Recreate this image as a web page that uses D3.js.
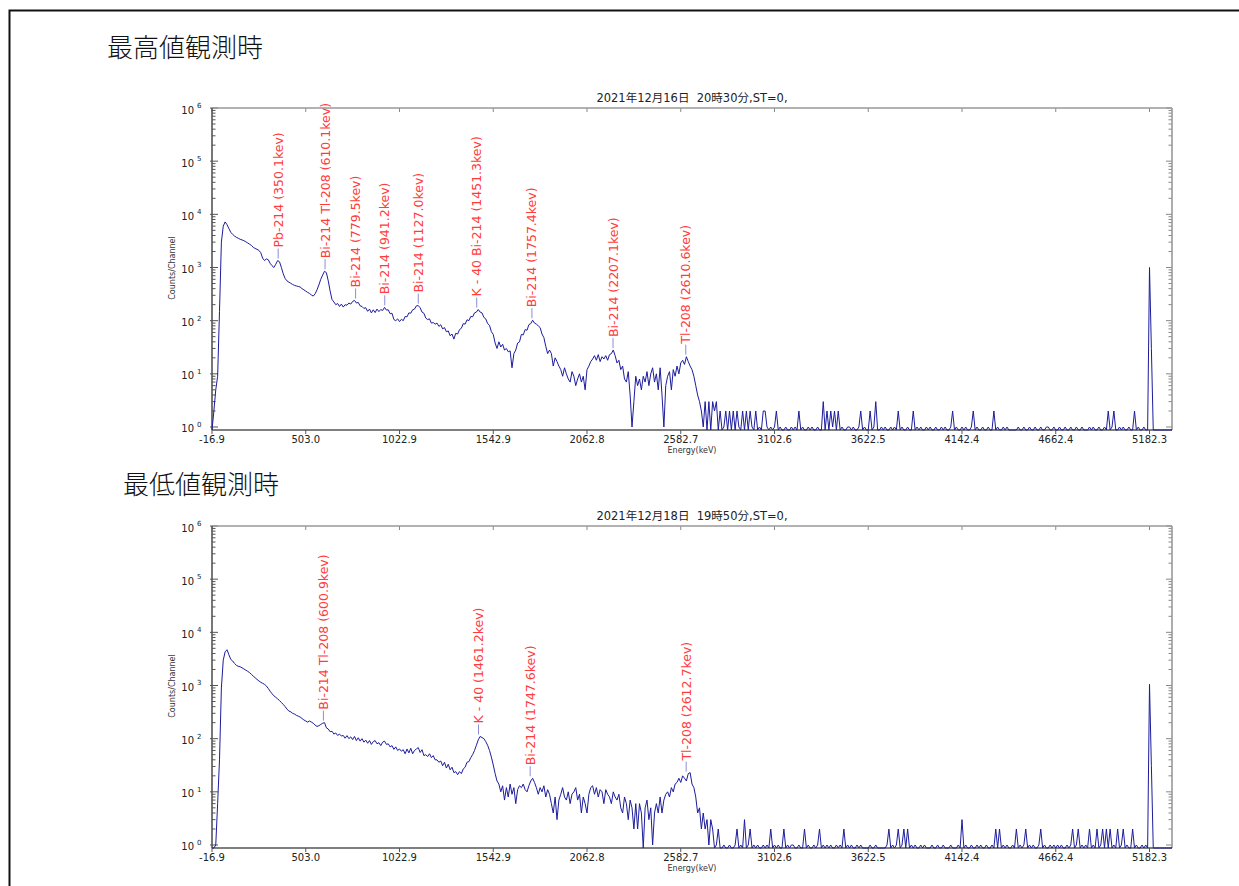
<!DOCTYPE html>
<html lang="ja">
<head>
<meta charset="UTF-8">
<title>最高値・最低値観測時スペクトル</title>
<script src="https://d3js.org/d3.v7.min.js"></script>
<style>
  body { margin: 0; background: #fff; }
  svg { display: block; }
</style>
</head>
<body>
<div id="chart"></div>
<script>
// energy axis: one stored point every 2 channels
const eStart = -16.9;
const eStep = 10.3984;

const xTickValues = [-16.9, 503.0, 1022.9, 1542.9, 2062.8, 2582.7, 3102.6, 3622.5, 4142.4, 4662.4, 5182.3];
const yDecades = [0, 1, 2, 3, 4, 5, 6];

// counts/channel (2021/12/16 20:30)
const topCounts = [
  0,2,5,9,150,3000,6000,7200,6400,5400,
  4600,4200,3900,3700,3550,3400,3300,3200,3050,2900,
  2750,2600,2400,2280,2200,2100,1900,1500,1350,1450,
  1400,1200,1080,1000,1150,1350,1280,1000,760,620,
  560,530,505,480,460,450,440,430,400,380,
  360,340,325,305,290,320,380,470,600,720,
  850,800,560,360,250,225,200,210,185,205,
  180,200,195,215,205,230,240,215,220,190,
  185,170,175,150,165,140,160,142,165,148,
  162,155,178,158,160,135,138,105,100,108,
  96,106,100,120,118,140,138,160,165,190,
  192,175,145,138,112,105,108,90,92,86,
  90,78,84,70,74,62,64,52,56,45,
  58,56,68,72,88,86,104,100,120,118,
  140,145,162,145,140,115,108,88,82,62,
  55,38,30,40,32,36,28,30,26,27,
  13,24,28,38,40,55,54,68,66,84,
  88,102,90,86,80,74,56,48,33,24,
  28,24,14,20,17,14,12,9,13,10,
  8,7,11,9,6,8,10,7,9,5,
  12,14,17,19,22,18,23,17,21,19,
  22,18,23,24,28,22,16,18,12,14,
  8,7,11,4,1,3,9,6,8,5,
  9,7,11,6,10,13,7,10,5,13,
  4,1,6,9,11,5,12,9,14,10,
  16,18,15,21,17,14,12,9,6,4,
  3,2,1,3,0,3,0,3,2,3,
  0,2,0,1,2,0,2,0,2,0,
  2,1,0,2,0,2,0,2,1,0,
  2,0,1,0,2,2,1,0,1,0,
  1,2,0,1,0,0,1,0,0,1,
  0,1,0,2,0,1,0,0,1,0,
  1,0,0,1,0,0,3,0,2,0,
  2,1,2,0,2,0,1,0,0,1,
  1,0,1,0,0,1,2,0,1,0,
  0,2,0,1,3,0,0,1,0,1,
  0,0,1,0,1,0,2,0,1,0,
  0,1,0,0,2,0,1,0,1,0,
  0,1,0,1,0,0,1,0,0,1,
  0,1,0,0,1,2,0,1,0,0,
  1,0,1,0,0,1,2,0,1,0,
  0,1,0,0,1,0,0,2,0,1,
  0,0,1,0,1,0,0,0,0,0,
  1,0,0,1,0,0,1,0,0,1,
  0,0,1,0,0,1,1,0,0,1,
  0,0,1,0,0,1,0,0,1,0,
  0,1,0,0,1,0,0,0,1,0,
  1,0,0,1,0,0,1,0,2,0,
  1,2,0,0,1,0,1,0,0,1,
  0,0,2,0,1,0,0,1,0,0,
  1000,30,0,0,0,0,0,0,0,0,
  0,0,0
];

// counts/channel (2021/12/18 19:50)
const bottomCounts = [
  0,0,1,6,40,900,3000,4300,4700,3800,
  3100,2900,2600,2400,2300,2250,2150,2050,1950,1850,
  1750,1620,1500,1400,1300,1220,1150,1100,1050,980,
  880,780,700,640,600,560,520,480,440,400,
  360,330,320,300,290,275,265,255,240,225,
  215,205,215,205,195,180,170,175,185,195,
  200,160,152,135,138,122,128,115,122,112,
  115,102,114,100,108,96,110,92,104,90,
  100,86,94,82,92,78,88,92,80,84,
  74,86,90,78,80,70,74,63,70,60,
  64,58,62,52,64,54,66,52,60,64,
  68,55,62,48,50,46,52,44,48,40,
  40,36,38,31,36,28,33,26,29,23,
  24,21,24,22,27,29,36,37,44,50,
  60,75,95,110,105,100,88,75,60,45,
  32,22,16,14,10,13,7,12,8,14,
  9,12,6,11,13,12,14,11,10,13,
  16,18,15,12,9,12,10,13,8,11,
  9,6,4,8,3,7,9,12,8,7,
  10,6,9,10,12,7,9,4,8,6,
  4,9,12,13,9,12,8,11,10,6,
  11,9,8,6,10,8,7,9,5,4,
  8,6,3,7,5,2,6,2,6,4,
  0,5,7,3,5,1,4,6,4,8,
  4,7,9,10,8,12,10,14,15,18,
  15,20,18,16,22,23,14,12,8,4,
  5,2,4,2,3,1,3,2,0,1,
  2,0,0,1,0,0,1,0,0,1,
  2,0,1,0,3,0,1,2,0,1,
  0,1,0,0,1,0,1,0,2,0,
  1,0,1,0,0,2,0,1,0,1,
  1,0,0,1,0,0,2,0,1,0,
  0,1,0,1,2,0,1,0,1,0,
  1,0,0,1,0,1,0,2,0,1,
  0,1,0,0,1,0,1,0,0,0,
  0,1,0,0,1,0,0,0,0,0,
  1,2,0,1,0,1,2,0,1,2,
  0,2,0,1,0,1,0,0,1,0,
  1,0,0,0,1,0,0,1,0,0,
  1,0,0,0,1,0,0,0,1,0,
  3,0,1,0,0,1,0,0,1,0,
  1,0,0,1,0,0,1,0,2,0,
  2,0,1,0,1,0,0,1,0,2,
  0,1,0,1,2,0,1,0,1,0,
  0,1,2,0,1,0,0,1,0,1,
  0,1,0,1,0,0,1,0,1,2,
  0,1,2,0,1,0,1,0,2,0,
  1,0,2,0,1,2,0,2,0,2,
  0,1,0,2,0,1,2,0,1,0,
  0,2,0,1,0,0,1,0,1,0,
  1050,31,0,0,0,0,0,0,0,0,
  0,0,0
];

// identified peaks
const topPeakE = [350.1, 610.1, 779.5, 941.2, 1127.0, 1451.3, 1757.4, 2207.1, 2610.6];
const topPeakText = ["Pb-214 (350.1kev)", "Bi-214 Tl-208 (610.1kev)", "Bi-214 (779.5kev)", "Bi-214 (941.2kev)",
  "Bi-214 (1127.0kev)", "K - 40 Bi-214 (1451.3kev)", "Bi-214 (1757.4kev)", "Bi-214 (2207.1kev)", "Tl-208 (2610.6kev)"];
const bottomPeakE = [600.9, 1461.2, 1747.6, 2612.7];
const bottomPeakText = ["Bi-214 Tl-208 (600.9kev)", "K - 40 (1461.2kev)", "Bi-214 (1747.6kev)", "Tl-208 (2612.7kev)"];

const headings = ["最高値観測時", "最低値観測時"];
const titles = ["2021年12月16日  20時30分,ST=0,", "2021年12月18日  19時50分,ST=0,"];

// ---- layout ----
const W = 1239, H = 886;
const left = 212, right = 1172, plotH = 322;
const yMin = 0.878;
const lineColor = "#1c1c9c";
const labelColor = "#ff3b3b";
const latin = "'DejaVu Sans', Verdana, sans-serif";
const cjk = "'DejaVu Sans', 'Noto Sans CJK JP', sans-serif";

const svg = d3.select("#chart").append("svg")
    .attr("width", W).attr("height", H)
    .style("background", "#fff");

// page frame (runs off the right/bottom edge)
svg.append("rect")
    .attr("x", 9.5).attr("y", 10.5)
    .attr("width", 1260).attr("height", 900)
    .attr("fill", "none").attr("stroke", "#111").attr("stroke-width", 2);

const panels = [
  { top: 108, headX: 107, headY: 45, counts: topCounts, peakE: topPeakE, peakText: topPeakText },
  { top: 526, headX: 123, headY: 482, counts: bottomCounts, peakE: bottomPeakE, peakText: bottomPeakText }
];

const x = d3.scaleLinear()
    .domain([eStart, eStart + 512 * eStep])
    .range([left, right]);

panels.forEach((p, k) => {
  const bottom = p.top + plotH;
  const y = d3.scaleLog().domain([yMin, 1e6]).range([bottom, p.top]);

  svg.append("text")
      .attr("x", p.headX).attr("y", p.headY)
      .attr("dominant-baseline", "central")
      .style("font-family", "'Noto Sans CJK JP', sans-serif")
      .style("font-weight", 300)
      .style("font-size", "26px")
      .attr("fill", "#111")
      .text(headings[k]);

  svg.append("text")
      .attr("x", 692).attr("y", p.top - 6)
      .attr("text-anchor", "middle")
      .style("font-family", cjk)
      .style("font-size", "11.5px")
      .style("white-space", "pre")
      .attr("fill", "#222")
      .text(titles[k]);

  const g = svg.append("g");

  // x axis ticks (bottom outward, top inward)
  g.selectAll(".xtb").data(xTickValues).enter().append("line")
      .attr("x1", d => x(d)).attr("x2", d => x(d))
      .attr("y1", bottom).attr("y2", bottom + 4)
      .attr("stroke", "#555").attr("stroke-width", 1);
  g.selectAll(".xtt").data(xTickValues).enter().append("line")
      .attr("x1", d => x(d)).attr("x2", d => x(d))
      .attr("y1", p.top).attr("y2", p.top + 4)
      .attr("stroke", "#888").attr("stroke-width", 1);
  g.selectAll(".xl").data(xTickValues).enter().append("text")
      .attr("x", d => x(d)).attr("y", bottom + 13)
      .attr("text-anchor", "middle")
      .style("font-family", latin).style("font-size", "10px")
      .attr("fill", "#222")
      .text(d => d.toFixed(1));

  // y axis log ticks
  const minor = [];
  yDecades.slice(0, -1).forEach(e => {
    for (let m = 2; m <= 9; m++) minor.push(m * Math.pow(10, e));
  });
  const major = yDecades.map(e => Math.pow(10, e));

  g.selectAll(".ymn").data(minor).enter().append("line")
      .attr("x1", left).attr("x2", left + 3.5)
      .attr("y1", d => y(d)).attr("y2", d => y(d))
      .attr("stroke", "#555").attr("stroke-width", 1);
  g.selectAll(".ymj").data(major).enter().append("line")
      .attr("x1", left - 2).attr("x2", left + 6)
      .attr("y1", d => y(d)).attr("y2", d => y(d))
      .attr("stroke", "#555").attr("stroke-width", 1);
  g.selectAll(".ymnr").data(minor).enter().append("line")
      .attr("x1", right - 3.5).attr("x2", right)
      .attr("y1", d => y(d)).attr("y2", d => y(d))
      .attr("stroke", "#888").attr("stroke-width", 1);
  g.selectAll(".ymjr").data(major).enter().append("line")
      .attr("x1", right - 6).attr("x2", right)
      .attr("y1", d => y(d)).attr("y2", d => y(d))
      .attr("stroke", "#888").attr("stroke-width", 1);

  const yl = g.selectAll(".yl").data(yDecades).enter().append("g");
  yl.append("text")
      .attr("x", 194).attr("y", d => y(Math.pow(10, d)) + 2)
      .attr("text-anchor", "end").attr("dominant-baseline", "central")
      .style("font-family", latin).style("font-size", "10px")
      .attr("fill", "#222")
      .text("10");
  yl.append("text")
      .attr("x", 197).attr("y", d => y(Math.pow(10, d)) - 2)
      .attr("dominant-baseline", "central")
      .style("font-family", latin).style("font-size", "7px")
      .attr("fill", "#222")
      .text(d => d);

  // frame: left/bottom darker, top/right lighter
  g.append("line").attr("x1", left).attr("x2", right).attr("y1", p.top).attr("y2", p.top)
      .attr("stroke", "#999").attr("stroke-width", 1.6);
  g.append("line").attr("x1", right).attr("x2", right).attr("y1", p.top).attr("y2", bottom)
      .attr("stroke", "#999").attr("stroke-width", 1.6);
  g.append("line").attr("x1", left).attr("x2", right).attr("y1", bottom).attr("y2", bottom)
      .attr("stroke", "#555").attr("stroke-width", 1.6);
  g.append("line").attr("x1", left).attr("x2", left).attr("y1", p.top).attr("y2", bottom)
      .attr("stroke", "#555").attr("stroke-width", 1.6);

  // axis titles
  g.append("text")
      .attr("x", 692).attr("y", bottom + 23)
      .attr("text-anchor", "middle")
      .style("font-family", latin).style("font-size", "8px")
      .attr("fill", "#333")
      .text("Energy(keV)");
  g.append("text")
      .attr("transform", `translate(175, ${p.top + 160}) rotate(-90)`)
      .attr("text-anchor", "middle")
      .style("font-family", latin).style("font-size", "8px")
      .attr("fill", "#333")
      .text("Counts/Channel");

  // spectrum
  const line = d3.line()
      .x((d, i) => x(eStart + i * eStep))
      .y(d => y(Math.max(d, yMin)));
  g.append("path")
      .datum(p.counts)
      .attr("fill", "none")
      .attr("stroke", lineColor)
      .attr("stroke-width", 1)
      .attr("stroke-linejoin", "round")
      .attr("d", line);

  // peak labels
  p.peakE.forEach((e, j) => {
    const idx = Math.round((e - eStart) / eStep);
    const peak = d3.max(p.counts.slice(idx - 1, idx + 2));
    const px = x(e), py = y(peak);
    g.append("line")
        .attr("x1", px).attr("x2", px)
        .attr("y1", py - 2).attr("y2", py - 12)
        .attr("stroke", "#8c8cd6").attr("stroke-width", 1);
    g.append("text")
        .attr("transform", `translate(${px}, ${py - 13}) rotate(-90)`)
        .attr("dy", "0.36em")
        .style("font-family", latin).style("font-size", "12.5px")
        .attr("fill", labelColor)
        .text(p.peakText[j]);
  });
});
</script>
</body>
</html>
